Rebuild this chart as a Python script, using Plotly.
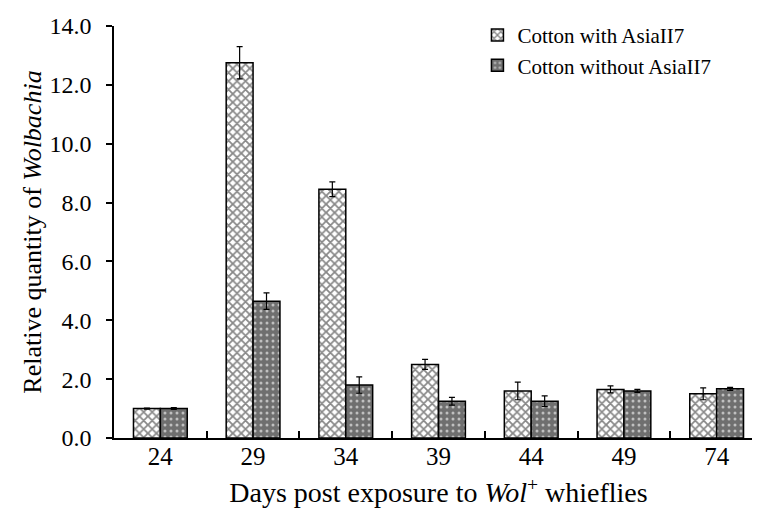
import plotly.graph_objects as go

days = ["24", "29", "34", "39", "44", "49", "74"]
with_asia = [1.0, 12.75, 8.45, 2.5, 1.6, 1.65, 1.5]
with_err = [0.02, 0.55, 0.25, 0.17, 0.3, 0.12, 0.2]
without_asia = [1.0, 4.65, 1.8, 1.25, 1.25, 1.6, 1.67]
without_err = [0.03, 0.28, 0.28, 0.13, 0.18, 0.05, 0.05]
y_ticks = [0, 2, 4, 6, 8, 10, 12, 14]

FONT = "Liberation Serif, Times New Roman, serif"

fig = go.Figure()
fig.add_trace(go.Bar(
    name="Cotton with AsiaII7", x=days, y=with_asia,
    marker=dict(color="white", line=dict(color="black", width=1.5),
                pattern=dict(shape="x", fgcolor="#111111", bgcolor="white",
                             size=6, solidity=0.5, fillmode="overlay")),
    error_y=dict(type="data", array=with_err, visible=True, color="black",
                 thickness=1.2, width=3),
))
fig.add_trace(go.Bar(
    name="Cotton without AsiaII7", x=days, y=without_asia,
    marker=dict(color="#6f6f6f", line=dict(color="black", width=1.5),
                pattern=dict(shape=".", fgcolor="#c0c0c0", bgcolor="#6f6f6f",
                             size=6, solidity=0.2, fillmode="replace")),
    error_y=dict(type="data", array=without_err, visible=True, color="black",
                 thickness=1.2, width=3),
))

fig.update_layout(
    width=760, height=513,
    margin=dict(l=106, r=5, t=16, b=83),
    paper_bgcolor="white", plot_bgcolor="white",
    barmode="group", bargap=0.42, bargroupgap=0,
    font=dict(family=FONT, color="black", size=24),
    showlegend=True,
    legend=dict(x=0.56, y=1.027, xanchor="left", yanchor="top",
                font=dict(family=FONT, size=21, color="black"),
                bgcolor="rgba(0,0,0,0)", itemwidth=30, tracegroupgap=0),
)
fig.update_xaxes(
    showline=True, linecolor="black", linewidth=1.5,
    ticks="inside", tickson="boundaries", ticklen=7, tickcolor="black", tickwidth=1.5,
    tickfont=dict(family=FONT, size=25), ticklabelstandoff=-5,
    title=dict(text="Days post exposure to <i>Wol</i><sup>+</sup> whieflies",
               font=dict(family=FONT, size=28), standoff=14),
    showgrid=False, zeroline=False,
)
fig.update_yaxes(
    range=[0, 14], tickvals=y_ticks, tickformat=".1f",
    showline=True, linecolor="black", linewidth=1.5,
    ticks="outside", ticklen=6, tickcolor="black", tickwidth=1.5,
    tickfont=dict(family=FONT, size=24), ticklabelstandoff=10,
    title=dict(text="Relative quantity of <i>Wolbachia</i>",
               font=dict(family=FONT, size=26), standoff=0),
    showgrid=False, zeroline=False,
)

fig.write_html("out.html")
